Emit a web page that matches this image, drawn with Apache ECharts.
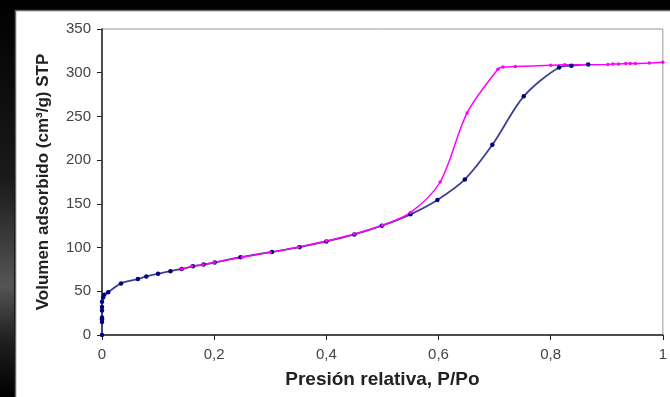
<!DOCTYPE html>
<html>
<head>
<meta charset="utf-8">
<script src="https://cdn.jsdelivr.net/npm/echarts@6/dist/echarts.min.js"></script>
<style>
  html, body { margin: 0; padding: 0; background: #000; }
  #chart { width: 670px; height: 397px; }
</style>
</head>
<body>
<div id="chart"></div>
<script>
// adsorción (azul)
const adsP = [0, 0, 0, 0, 0, 0, 0, 0.002, 0.004, 0.011, 0.034, 0.064, 0.079, 0.10, 0.122, 0.142, 0.162, 0.181, 0.201, 0.247, 0.303, 0.352, 0.40, 0.45, 0.499, 0.55, 0.598, 0.647, 0.696, 0.752, 0.815, 0.837, 0.867]
const adsV = [0, 15, 18, 20, 28, 32, 38, 43, 46, 49, 59, 64, 67, 70, 73, 75.5, 78.5, 80.5, 83, 89, 95, 100.5, 107, 115, 125, 138, 154.5, 178, 217.5, 273, 306, 308, 309.5]

// desorción (magenta)
const desP = [1.0, 0.976, 0.951, 0.942, 0.934, 0.921, 0.911, 0.902, 0.825, 0.80, 0.737, 0.715, 0.706, 0.651, 0.603, 0.55, 0.50, 0.45, 0.40, 0.35, 0.30, 0.25, 0.20, 0.18, 0.16, 0.142]
const desV = [312, 311, 310.5, 310.5, 310.5, 310, 310, 309.5, 309, 308.5, 307, 306.5, 304, 254, 175, 140, 125.5, 115.5, 107.5, 100.5, 94.5, 89, 83, 80.5, 78.5, 75.5]

const xTicks = [0, 0.2, 0.4, 0.6, 0.8, 1]
const yTicks = [0, 50, 100, 150, 200, 250, 300, 350]

const zip = (a, b) => a.map((v, i) => [v, b[i]])

const chart = echarts.init(document.getElementById('chart'))

const option = {
  backgroundColor: '#000',
  animation: false,
  graphic: [
    {
      type: 'rect',
      z: -10,
      shape: { x: 0, y: 0, width: 14, height: 397 },
      style: {
        fill: new echarts.graphic.LinearGradient(0, 0, 0, 1, [
          { offset: 0, color: '#000' },
          { offset: 0.45, color: '#1a1a1a' },
          { offset: 0.72, color: '#555' },
          { offset: 0.85, color: '#222' },
          { offset: 1, color: '#000' }
        ])
      }
    },
    {
      type: 'rect',
      z: -10,
      shape: { x: 15.5, y: 10.5, width: 680, height: 420 },
      style: { fill: '#fff', stroke: '#666', lineWidth: 1.5 }
    }
  ],
  grid: {
    left: 102,
    right: 2,
    top: 29,
    bottom: 62,
    show: true,
    backgroundColor: '#fff',
    borderColor: '#999',
    borderWidth: 1
  },
  xAxis: {
    type: 'value',
    min: xTicks[0],
    max: xTicks[xTicks.length - 1],
    interval: 0.2,
    name: 'Presión relativa, P/Po',
    nameLocation: 'middle',
    nameGap: 35,
    nameTextStyle: { fontFamily: 'Liberation Sans', fontWeight: 'bold', fontSize: 19, color: '#222' },
    axisLine: { lineStyle: { color: '#222', width: 1.5 } },
    axisTick: { show: true, length: 5, lineStyle: { color: '#222' } },
    axisLabel: {
      margin: 12,
      fontFamily: 'Liberation Sans',
      fontSize: 15,
      color: '#444',
      formatter: v => String(+v.toFixed(1)).replace('.', ',')
    },
    splitLine: { show: false }
  },
  yAxis: {
    type: 'value',
    min: yTicks[0],
    max: yTicks[yTicks.length - 1],
    interval: 50,
    name: 'Volumen adsorbido (cm³/g) STP',
    nameLocation: 'middle',
    nameGap: 50,
    nameTextStyle: { fontFamily: 'Liberation Sans', fontWeight: 'bold', fontSize: 17, color: '#222' },
    axisLine: { show: true, lineStyle: { color: '#222', width: 1.5 } },
    axisTick: { show: true, length: 5, lineStyle: { color: '#222' } },
    axisLabel: { margin: 11, fontFamily: 'Liberation Sans', fontSize: 15, color: '#444' },
    splitLine: { show: false }
  },
  series: [
    {
      name: 'Adsorción',
      type: 'line',
      smooth: 0.3,
      data: zip(adsP, adsV),
      symbol: 'circle',
      symbolSize: 4.5,
      itemStyle: { color: '#000080' },
      lineStyle: { color: '#404090', width: 1.8 }
    },
    {
      name: 'Desorción',
      type: 'line',
      smooth: 0.3,
      data: zip(desP, desV),
      symbol: 'circle',
      symbolSize: 3.5,
      itemStyle: { color: '#ff00ff' },
      lineStyle: { color: '#ff00ff', width: 1.5 }
    }
  ]
}

chart.setOption(option)
</script>
</body>
</html>
